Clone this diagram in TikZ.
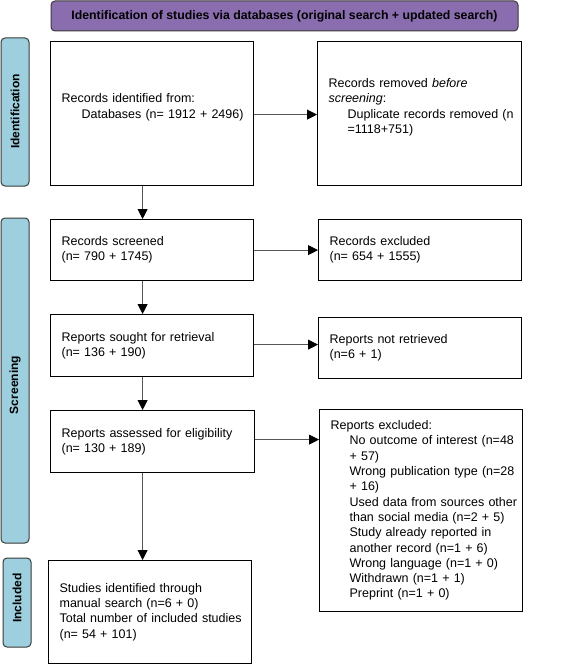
\documentclass[tikz,border=0pt]{standalone}
\usepackage{fontspec}
\setmainfont{Liberation Sans}
\usetikzlibrary{arrows.meta,calc}
\definecolor{bannerpurple}{HTML}{8A6DAF}
\definecolor{tabblue}{HTML}{9DCFDE}
\definecolor{tabedge}{HTML}{3A3A3A}
\definecolor{arrowgray}{HTML}{555555}
\begin{document}
\begin{tikzpicture}[x=1pt,y=-1pt,
  every node/.style={font=\fontsize{12.5}{15.3}\selectfont},
  flowbox/.style={draw=black,line width=1.2pt,rectangle,anchor=north west,
    inner xsep=11pt,inner ysep=0pt,align=left},
  phasetab/.style={draw=tabedge,fill=tabblue,line width=1pt,rounded corners=4pt,
    minimum width=28pt,inner sep=0pt},
  tablabel/.style={rotate=90,inner sep=0pt,font=\fontsize{12}{14}\selectfont\bfseries},
  flowarrow/.style={draw=arrowgray,line width=0.8pt,
    -{Triangle[length=10pt,width=10pt,color=black]}}]
\useasboundingbox (0,0) rectangle (565,671);
\fill[white] (0,0) rectangle (565,671);

% banner
\node[draw=tabedge,fill=bannerpurple,line width=1pt,rounded corners=4pt,
  minimum width=467pt,minimum height=30pt,inner sep=0pt,
  font=\fontsize{12.3}{15}\selectfont\bfseries] (banner) at (284.5,16)
  {Identification of studies via databases (original search + updated search)};

% phase tabs
\node[phasetab,minimum height=148pt] (tabid) at (15,112) {};
\node[tablabel] (labid) at (15,111.5) {Identification};
\node[phasetab,minimum height=325pt] (tabscr) at (15,380.5) {};
\node[tablabel] (labscr) at (15,385) {Screening};
\node[phasetab,minimum height=89pt] (tabinc) at (17,602.5) {};
\node[tablabel] (labinc) at (17,598) {Included};

% boxes
\node[flowbox,minimum width=203pt,minimum height=144pt,text width=181pt] (b1) at (50,41)
  {Records identified from:\\\hspace*{20pt}\mbox{Databases (n= 1912 + 2496)}\\~};
\node[flowbox,minimum width=204pt,minimum height=144pt,text width=182pt] (b2) at (317,41)
  {Records removed \textit{before}\\\textit{screening}:\\\hspace*{19pt}\mbox{Duplicate records removed (n}\\\hspace*{19pt}=1118+751)\\~};
\node[flowbox,minimum width=203pt,minimum height=61pt,text width=181pt] (b3) at (50,219)
  {Records screened\\(n= 790 + 1745)};
\node[flowbox,minimum width=203pt,minimum height=61pt,text width=181pt] (b4) at (318,219)
  {Records excluded\\(n= 654 + 1555)};
\node[flowbox,minimum width=203pt,minimum height=62pt,text width=181pt] (b5) at (50,314)
  {Reports sought for retrieval\\(n= 136 + 190)};
\node[flowbox,minimum width=203pt,minimum height=61pt,text width=181pt] (b6) at (318,317)
  {Reports not retrieved\\(n=6 + 1)};
\node[flowbox,minimum width=204pt,minimum height=62pt,text width=182pt] (b7) at (50,410)
  {\mbox{Reports assessed for eligibility}\\(n= 130 + 189)};
\node[flowbox,minimum width=203pt,minimum height=202pt,text width=181pt] (b8) at (319,409)
  {Reports excluded:\\
   \hspace*{19pt}\mbox{No outcome of interest (n=48}\\
   \hspace*{19pt}+ 57)\\
   \hspace*{19pt}\mbox{Wrong publication type (n=28}\\
   \hspace*{19pt}+ 16)\\
   \hspace*{19pt}\mbox{Used data from sources other}\\
   \hspace*{19pt}\mbox{than social media (n=2 + 5)}\\
   \hspace*{19pt}\mbox{Study already reported in}\\
   \hspace*{19pt}\mbox{another record (n=1 + 6)}\\
   \hspace*{19pt}\mbox{Wrong language (n=1 + 0)}\\
   \hspace*{19pt}Withdrawn (n=1 + 1)\\
   \hspace*{19pt}Preprint (n=1 + 0)};
\node[flowbox,minimum width=203pt,minimum height=103pt,text width=181pt] (b9) at (48,560)
  {Studies identified through\\manual search (n=6 + 0)\\\mbox{Total number of included studies}\\(n= 54 + 101)};

% arrows
\draw[flowarrow] ([yshift=-1pt]b1.east) -- ([yshift=-1pt]b1.east -| b2.west);
\draw[flowarrow] (b3.east) -- (b3.east -| b4.west);
\draw[flowarrow] ([yshift=1pt]b5.east) -- ([yshift=1pt]b5.east -| b6.west);
\draw[flowarrow] ([yshift=2pt]b7.east) -- ([yshift=2pt]b7.east -| b8.west);
\draw[flowarrow] ([xshift=-9.5pt]b1.south) -- ([xshift=-9.5pt]b1.south |- b3.north);
\draw[flowarrow] ([xshift=-9.5pt]b3.south) -- ([xshift=-9.5pt]b3.south |- b5.north);
\draw[flowarrow] ([xshift=-9.5pt]b5.south) -- ([xshift=-9.5pt]b5.south |- b7.north);
\draw[flowarrow] ([xshift=-10pt]b7.south) -- ([xshift=-10pt]b7.south |- b9.north);
\end{tikzpicture}
\end{document}
